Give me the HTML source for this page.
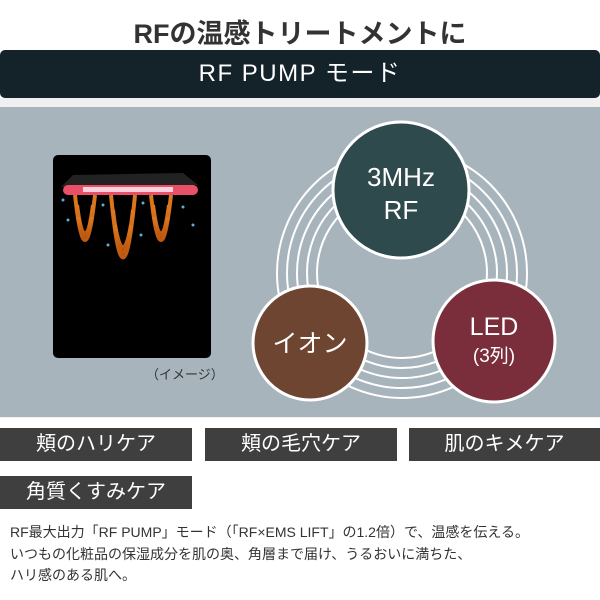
<!DOCTYPE html>
<html><head><meta charset="utf-8"><style>
body{margin:0;width:600px;height:600px;background:#fff;font-family:"Liberation Sans","Noto Sans CJK JP",sans-serif;position:relative;overflow:hidden}
.a{position:absolute}
.tag{position:absolute;height:33px;background:#3f3f3f;color:#fff;font-size:20px;line-height:33px;text-align:center}
</style></head><body>
<div class="a" style="left:0;width:600px;top:12px;text-align:center;font-size:27px;font-weight:bold;color:#333">RFの温感トリートメントに</div>
<div class="a" style="left:0;top:50px;width:600px;height:48px;background:#14222a;border-radius:5px;color:#fff;font-size:24px;line-height:48px;text-align:center;letter-spacing:1.5px">RF PUMP モード</div>
<div class="a" style="left:0;top:98px;width:600px;height:320px;background:#f0f0f0"></div>
<div class="a" style="left:0;top:107px;width:600px;height:310px;background:#a8b4bc"></div>
<svg class="a" style="left:53px;top:155px" width="158" height="203" viewBox="0 0 158 203">
<defs><linearGradient id="o" x1="0" y1="0" x2="0" y2="1"><stop offset="0" stop-color="#e07a20"/><stop offset="1" stop-color="#c05a10"/></linearGradient></defs>
<rect width="158" height="203" rx="5" fill="#000"/>
<path d="M20 20 L130 18 L145 30 L8 32Z" fill="#222"/>
<rect x="10" y="30" width="135" height="10" rx="5" fill="#e8506a"/>
<rect x="30" y="32" width="90" height="5" fill="#ffd0dc"/>
<g fill="none" stroke="url(#o)" stroke-width="4">
<path d="M22 40 Q32 130 42 40"/><path d="M24 50 Q32 110 40 50"/><path d="M25 62 Q32 95 39 62"/>
<path d="M58 40 Q70 165 82 40"/><path d="M60 55 Q70 140 80 55"/><path d="M62 70 Q70 115 78 70"/>
<path d="M98 40 Q108 130 118 40"/><path d="M100 50 Q108 110 116 50"/><path d="M101 62 Q108 95 115 62"/>
</g>
<g fill="#5ab0d0"><circle cx="10" cy="45" r="1.5"/><circle cx="50" cy="50" r="1.5"/><circle cx="90" cy="48" r="1.5"/><circle cx="130" cy="52" r="1.5"/><circle cx="140" cy="70" r="1.5"/><circle cx="15" cy="65" r="1.5"/><circle cx="88" cy="80" r="1.5"/><circle cx="55" cy="90" r="1.5"/></g>
</svg>
<div class="a" style="left:146px;top:364px;font-size:13px;color:#333">（イメージ）</div>
<svg class="a" style="left:0;top:0" width="600" height="420">
<g fill="none" stroke="#fff" stroke-width="2">
<circle cx="402" cy="273" r="85"/><circle cx="402" cy="273" r="95"/><circle cx="402" cy="273" r="105"/><circle cx="402" cy="273" r="115"/><circle cx="402" cy="273" r="125"/>
</g>
<circle cx="401" cy="190" r="68" fill="#2e4a4c" stroke="#fff" stroke-width="3"/>
<circle cx="310" cy="343" r="57" fill="#6e4530" stroke="#fff" stroke-width="3"/>
<circle cx="494" cy="341" r="61" fill="#7a2d3a" stroke="#fff" stroke-width="3"/>
<g fill="#fff" font-family="Liberation Sans,Noto Sans CJK JP,sans-serif" text-anchor="middle">
<text x="401" y="186" font-size="26">3MHz</text><text x="401" y="219" font-size="26">RF</text>
<text x="310" y="352" font-size="25">イオン</text>
<text x="494" y="335" font-size="25">LED</text><text x="494" y="362" font-size="19">(3列)</text>
</g>
</svg>
<div class="tag" style="left:0;top:428px;width:192px">頬のハリケア</div>
<div class="tag" style="left:205px;top:428px;width:192px">頬の毛穴ケア</div>
<div class="tag" style="left:409px;top:428px;width:191px">肌のキメケア</div>
<div class="tag" style="left:0;top:476px;width:192px">角質くすみケア</div>
<div class="a" style="left:0;top:509px;width:600px;height:91px;background:#fff"></div>
<div class="a" style="left:10px;top:522px;font-size:14px;line-height:21.5px;color:#333">RF最大出力「RF PUMP」モード（「RF×EMS LIFT」の1.2倍）で、温感を伝える。<br>いつもの化粧品の保湿成分を肌の奥、角層まで届け、うるおいに満ちた、<br>ハリ感のある肌へ。</div>
</body></html>
